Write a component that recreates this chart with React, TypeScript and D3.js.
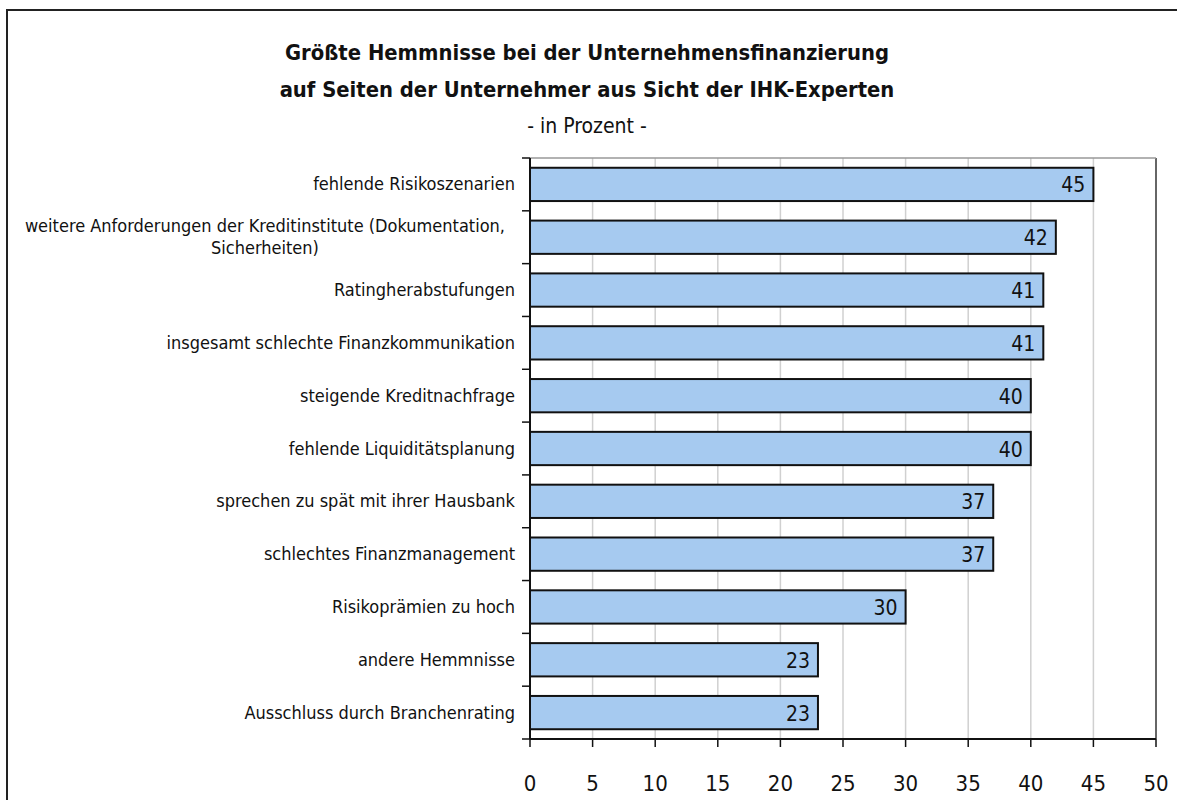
import React from 'react'
import * as d3 from 'd3'

const categories = [
  'fehlende Risikoszenarien',
  'weitere Anforderungen der Kreditinstitute (Dokumentation, Sicherheiten)',
  'Ratingherabstufungen',
  'insgesamt schlechte Finanzkommunikation',
  'steigende Kreditnachfrage',
  'fehlende Liquiditätsplanung',
  'sprechen zu spät mit ihrer Hausbank',
  'schlechtes Finanzmanagement',
  'Risikoprämien zu hoch',
  'andere Hemmnisse',
  'Ausschluss durch Branchenrating'
]
const values = [45, 42, 41, 41, 40, 40, 37, 37, 30, 23, 23]
const xTicks = [0, 5, 10, 15, 20, 25, 30, 35, 40, 45, 50]
const titleLines = [
  'Größte Hemmnisse bei der Unternehmensfinanzierung',
  'auf Seiten der Unternehmer aus Sicht der IHK-Experten'
]
const subtitle = '- in Prozent -'

const W = 1177
const H = 800
const FONT = "'Liberation Sans Narrow', 'DejaVu Sans Condensed', 'Roboto Condensed', sans-serif"
const margin = { top: 158, right: 21, bottom: 61, left: 530 }

const measureCtx = typeof document !== 'undefined'
  ? document.createElement('canvas').getContext('2d')
  : null

function textWidth (s: string, font: string) {
  if (!measureCtx) return s.length * 8
  measureCtx.font = font
  return measureCtx.measureText(s).width
}

function wrap (label: string, maxChars: number) {
  const words = label.split(' ')
  const lines: string[] = []
  let cur = ''
  words.forEach(w => {
    const next = cur ? cur + ' ' + w : w
    if (next.length > maxChars && cur) {
      lines.push(cur)
      cur = w
    } else cur = next
  })
  if (cur) lines.push(cur)
  return lines
}

const App = () => {
  const x = d3.scaleLinear().domain([0, 50]).range([margin.left, W - margin.right])
  const y = d3.scaleBand<string>()
    .domain(categories)
    .range([margin.top, H - margin.bottom])
    .paddingInner(0.37)
    .paddingOuter(0.185)
  const step = y.step()
  const labelRight = 515
  const labelSize = 18
  const labelFont = `${labelSize}px ${FONT}`

  return (
    <svg width={W} height={H} style={{ position: 'absolute', left: 0, top: 0, background: '#fff' }}
      fontFamily={FONT}>
      {/* outer frame */}
      <rect x={7} y={10} width={W + 20} height={H + 20} fill='#fff' stroke='#222' strokeWidth={2} />

      {/* title */}
      {titleLines.map((t, i) => (
        <text key={t} x={587} y={60 + i * 37} textAnchor='middle' fontSize={21.8} fontWeight='bold' fill='#111'>{t}</text>
      ))}
      <text x={587} y={133} textAnchor='middle' fontSize={21} fill='#111'>{subtitle}</text>

      {/* grid */}
      {xTicks.slice(1).map(t => (
        <line key={'g' + t} x1={x(t)} x2={x(t)} y1={margin.top} y2={H - margin.bottom}
          stroke={t === 50 ? '#333' : '#d0d0d0'} strokeWidth={1.5} />
      ))}
      <line x1={margin.left} x2={x(50)} y1={margin.top} y2={margin.top} stroke='#999' strokeWidth={1.5} />

      {/* bars */}
      {categories.map((c, i) => (
        <g key={c}>
          <rect x={x(0)} y={y(c)} width={x(values[i]) - x(0)} height={y.bandwidth()}
            fill='#a6caf0' stroke='#111' strokeWidth={2} />
          <text x={x(values[i]) - 8} y={(y(c) ?? 0) + y.bandwidth() / 2 + 8}
            textAnchor='end' fontSize={21} fill='#111'>{values[i]}</text>
        </g>
      ))}

      {/* y axis */}
      <line x1={margin.left} x2={margin.left} y1={margin.top} y2={H - margin.bottom} stroke='#111' strokeWidth={2} />
      {d3.range(categories.length + 1).map(i => (
        <line key={'yt' + i} x1={margin.left - 8} x2={margin.left}
          y1={margin.top + i * step} y2={margin.top + i * step} stroke='#111' strokeWidth={1.5} />
      ))}
      {categories.map(c => {
        const lines = wrap(c, 58)
        const cy = (y(c) ?? 0) + y.bandwidth() / 2
        const lh = 22
        if (lines.length === 1) {
          return <text key={'l' + c} x={labelRight} y={cy + 6} textAnchor='end' fontSize={labelSize} fill='#111'>{c}</text>
        }
        const bw = Math.max(...lines.map(l => textWidth(l, labelFont)))
        const cx = labelRight - 10 - bw / 2
        return (
          <text key={'l' + c} textAnchor='middle' fontSize={labelSize} fill='#111'>
            {lines.map((l, j) => (
              <tspan key={j} x={cx} y={cy + 6 + (j - (lines.length - 1) / 2) * lh}>{l}</tspan>
            ))}
          </text>
        )
      })}

      {/* x axis */}
      <line x1={margin.left} x2={x(50)} y1={H - margin.bottom} y2={H - margin.bottom} stroke='#111' strokeWidth={2} />
      {xTicks.map(t => (
        <g key={'xt' + t}>
          <line x1={x(t)} x2={x(t)} y1={H - margin.bottom} y2={H - margin.bottom + 8} stroke='#111' strokeWidth={1.5} />
          <text x={x(t)} y={791} textAnchor='middle' fontSize={22} fill='#111'>{t}</text>
        </g>
      ))}
    </svg>
  )
}

export default App
